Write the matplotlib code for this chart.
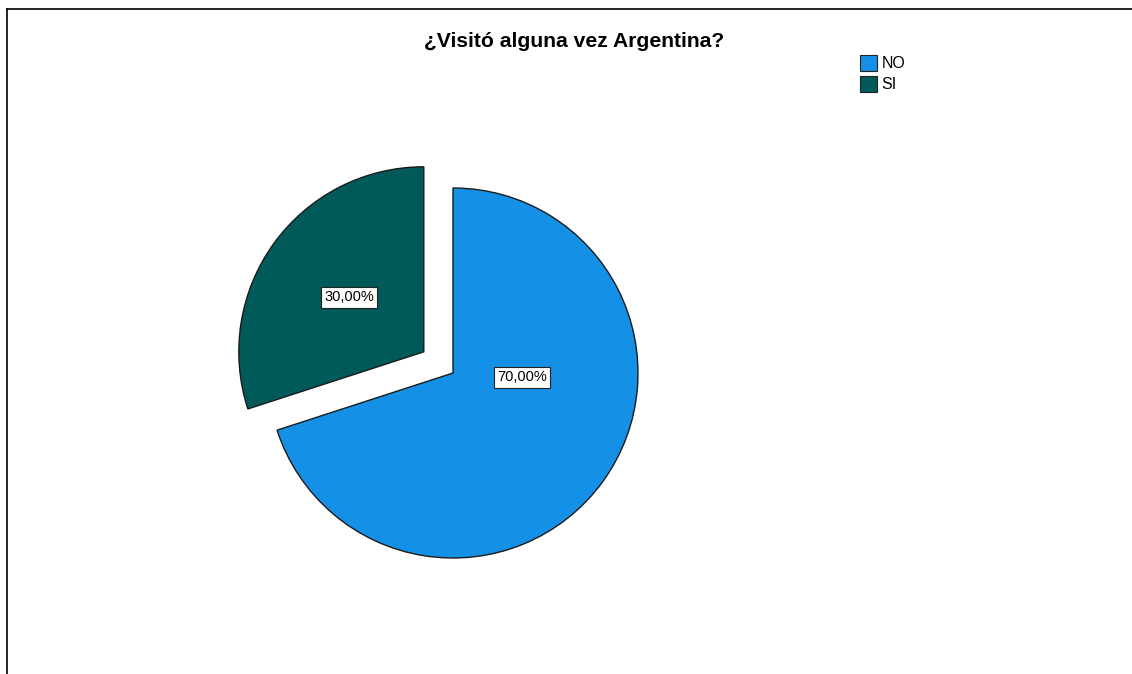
import matplotlib.pyplot as plt
from matplotlib.patches import Patch
from matplotlib.lines import Line2D

# define data
labels = ['NO', 'SI']
percentages = [70.0, 30.0]
colors = ['#1490e6', '#005a5a']
explode = [0, 0.195]

plt.rcParams['font.family'] = ['Liberation Sans', 'DejaVu Sans']

fig = plt.figure(figsize=(11.32, 6.74), dpi=100)

# frame lines along top and left edge
fig.add_artist(Line2D([7 / 1132, 1.0], [1 - 9 / 674, 1 - 9 / 674], color='black', lw=1.2))
fig.add_artist(Line2D([7 / 1132, 7 / 1132], [0.0, 1 - 9 / 674], color='black', lw=1.2))

# make pie
ax = fig.add_axes([194 / 1132, 42 / 674, 518 / 1132, 518 / 674])
wedges, texts, autotexts = ax.pie(
    percentages, colors=colors, explode=explode, startangle=90, counterclock=False,
    autopct=lambda p: f'{p:.2f}%'.replace('.', ','), pctdistance=0.5,
    wedgeprops=dict(edgecolor='#1a1a1a', linewidth=1.0),
    textprops=dict(fontsize=10.5, color='black'))
ax.set_xlim(-1.4, 1.4)
ax.set_ylim(-1.4, 1.4)
ax.set_aspect('equal')
ax.axis('off')

for t in autotexts:
    t.set_bbox(dict(facecolor='white', edgecolor='#222222', linewidth=0.8, pad=2.5))
# NO label sits right of centre
autotexts[0].set_position((0.373, -0.022))

# title and legend
fig.text(574 / 1132, 1 - 47 / 674, '¿Visitó alguna vez Argentina?', ha='center', va='baseline',
         fontsize=15.2, fontweight='bold')
handles = [Patch(facecolor=c, edgecolor='#222222', linewidth=0.8) for c in colors]
fig.legend(handles, labels, loc='upper left', bbox_to_anchor=(860 / 1132, 1 - 55 / 674),
           frameon=False, fontsize=11.5, handlelength=1.06, handleheight=1.15,
           handletextpad=0.3, labelspacing=0.3, borderaxespad=0, borderpad=0)

plt.savefig('out.png', dpi=100)
